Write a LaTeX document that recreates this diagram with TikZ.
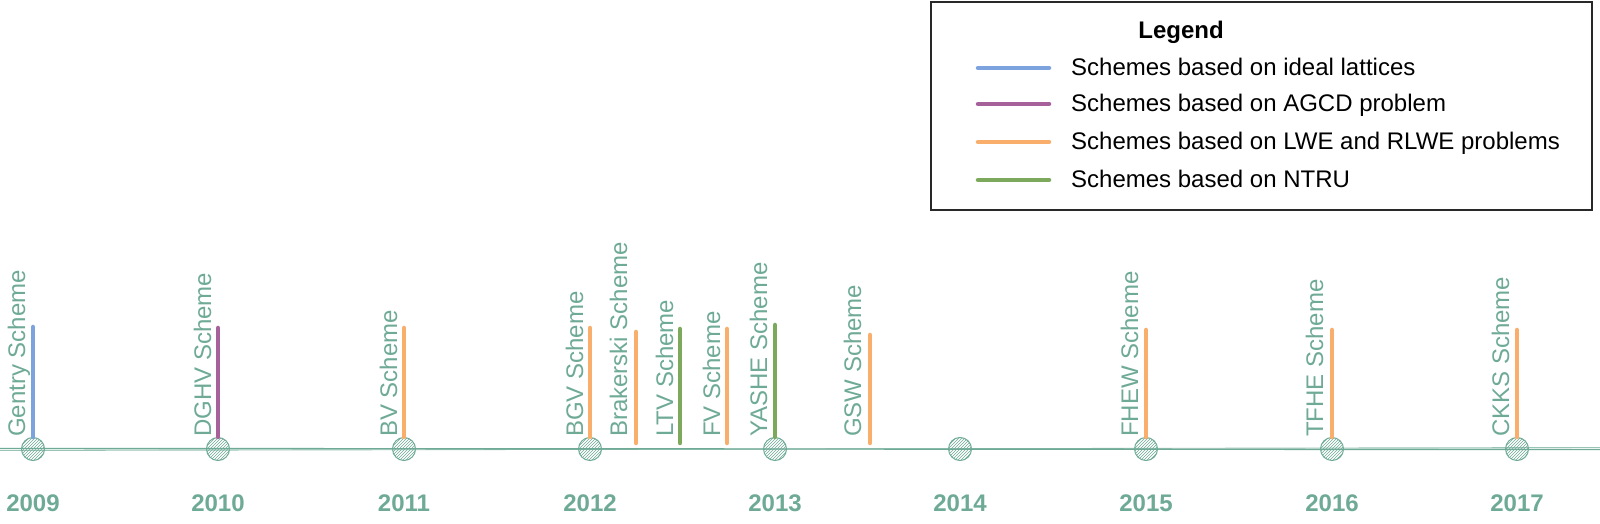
\documentclass[tikz,border=0pt]{standalone}
\usepackage{fontspec}
\setmainfont{Liberation Sans}
\usetikzlibrary{patterns}
\definecolor{axisColor}{RGB}{110,170,150}
\definecolor{idealColor}{RGB}{124,163,222}
\definecolor{agcdColor}{RGB}{166,97,154}
\definecolor{lweColor}{RGB}{249,174,107}
\definecolor{ntruColor}{RGB}{124,169,92}
\definecolor{boxColor}{RGB}{40,40,40}
\tikzset{
  yeardot/.style={draw=axisColor,circle,minimum size=23pt,inner sep=0pt,line width=1pt,
    pattern=north east lines,pattern color=axisColor},
  yearlabel/.style={text=axisColor,anchor=base,inner sep=0pt,font=\fontsize{24}{28}\selectfont\bfseries},
  schemelabel/.style={text=axisColor,rotate=90,anchor=base west,inner sep=0pt,font=\fontsize{24}{28}\selectfont},
  stem/.style={line width=4.5pt,line cap=round},
  legendline/.style={line width=4.5pt,line cap=round},
  legendtext/.style={anchor=base west,inner sep=0pt,font=\fontsize{24}{28}\selectfont}
}
\begin{document}
\begin{tikzpicture}[x=1pt,y=1pt]
\definecolor{fillColor}{RGB}{255,255,255}
\path[use as bounding box,fill=fillColor] (0,0) rectangle (1600,524);

% axis, drawn twice for the sketchy look
\coordinate (axisL) at (0,75.5);
\coordinate (axisR) at (1600,74.5);
\coordinate (axisL2) at (0,73.5);
\coordinate (axisR2) at (1600,76.5);
\draw[axisColor,line width=1.4pt] (axisL) -- (axisR);
\draw[axisColor,line width=0.9pt,opacity=0.7] (axisL2) -- (axisR2);

% years
\node[yeardot] (d2009) at (  33,75) {};
\node[yeardot] (d2010) at ( 218,75) {};
\node[yeardot] (d2011) at ( 404,75) {};
\node[yeardot] (d2012) at ( 590,75) {};
\node[yeardot] (d2013) at ( 775,75) {};
\node[yeardot] (d2014) at ( 960,75) {};
\node[yeardot] (d2015) at (1146,75) {};
\node[yeardot] (d2016) at (1332,75) {};
\node[yeardot] (d2017) at (1517,75) {};

\node[yearlabel] (y2009) at (  33,12) {2009};
\node[yearlabel] (y2010) at ( 218,12) {2010};
\node[yearlabel] (y2011) at ( 404,12) {2011};
\node[yearlabel] (y2012) at ( 590,12) {2012};
\node[yearlabel] (y2013) at ( 775,12) {2013};
\node[yearlabel] (y2014) at ( 960,12) {2014};
\node[yearlabel] (y2015) at (1146,12) {2015};
\node[yearlabel] (y2016) at (1332,12) {2016};
\node[yearlabel] (y2017) at (1517,12) {2017};

% stems
\coordinate (gentryTop) at (33,197);
\coordinate (dghvTop) at (218,196);
\coordinate (bvTop) at (404,196);
\coordinate (bgvTop) at (590,196);
\coordinate (brakBot) at (636,81);
\coordinate (brakTop) at (636,192);
\coordinate (ltvBot) at (680,81);
\coordinate (ltvTop) at (680,195);
\coordinate (fvBot) at (727,81);
\coordinate (fvTop) at (727,195);
\coordinate (yasheTop) at (775,199);
\coordinate (gswBot) at (870,81);
\coordinate (gswTop) at (870,189);
\coordinate (fhewTop) at (1146,194);
\coordinate (tfheTop) at (1332,194);
\coordinate (ckksTop) at (1517,194);

\draw[stem,idealColor] (d2009.north) -- (gentryTop);
\draw[stem,agcdColor] (d2010.north) -- (dghvTop);
\draw[stem,lweColor] (d2011.north) -- (bvTop);
\draw[stem,lweColor] (d2012.north) -- (bgvTop);
\draw[stem,lweColor] (brakBot) -- (brakTop);
\draw[stem,ntruColor] (ltvBot) -- (ltvTop);
\draw[stem,lweColor] (fvBot) -- (fvTop);
\draw[stem,ntruColor] (d2013.north) -- (yasheTop);
\draw[stem,lweColor] (gswBot) -- (gswTop);
\draw[stem,lweColor] (d2015.north) -- (fhewTop);
\draw[stem,lweColor] (d2016.north) -- (tfheTop);
\draw[stem,lweColor] (d2017.north) -- (ckksTop);

% scheme names
\node[schemelabel] (gentry) at (  25,87) {Gentry Scheme};
\node[schemelabel] (dghv) at ( 211,87) {DGHV Scheme};
\node[schemelabel] (bv) at ( 397,87) {BV Scheme};
\node[schemelabel] (bgv) at ( 583,87) {BGV Scheme};
\node[schemelabel] (brak) at ( 627,87) {Brakerski Scheme};
\node[schemelabel] (ltv) at ( 673,87) {LTV Scheme};
\node[schemelabel] (fv) at ( 720,87) {FV Scheme};
\node[schemelabel] (yashe) at ( 767,87) {YASHE Scheme};
\node[schemelabel] (gsw) at ( 861,87) {GSW Scheme};
\node[schemelabel] (fhew) at (1138,87) {FHEW Scheme};
\node[schemelabel] (tfhe) at (1323,87) {TFHE Scheme};
\node[schemelabel] (ckks) at (1509,87) {CKKS Scheme};

% legend
\draw[boxColor,line width=1.3pt,fill=white] (931,522) rectangle (1592,314);
\node[legendtext,anchor=base,font=\fontsize{24}{28}\selectfont\bfseries] (legendTitle) at (1181,485) {Legend};

\coordinate (lgA1) at (978,456);
\coordinate (lgA2) at (1049,456);
\coordinate (lgB1) at (978,420);
\coordinate (lgB2) at (1049,420);
\coordinate (lgC1) at (978,382);
\coordinate (lgC2) at (1049,382);
\coordinate (lgD1) at (978,344);
\coordinate (lgD2) at (1049,344);
\draw[legendline,idealColor] (lgA1) -- (lgA2);
\draw[legendline,agcdColor] (lgB1) -- (lgB2);
\draw[legendline,lweColor] (lgC1) -- (lgC2);
\draw[legendline,ntruColor] (lgD1) -- (lgD2);

\node[legendtext] (lgA) at (1071,448) {Schemes based on ideal lattices};
\node[legendtext] (lgB) at (1071,412) {Schemes based on AGCD problem};
\node[legendtext] (lgC) at (1071,374) {Schemes based on LWE and RLWE problems};
\node[legendtext] (lgD) at (1071,336) {Schemes based on NTRU};
\end{tikzpicture}
\end{document}
